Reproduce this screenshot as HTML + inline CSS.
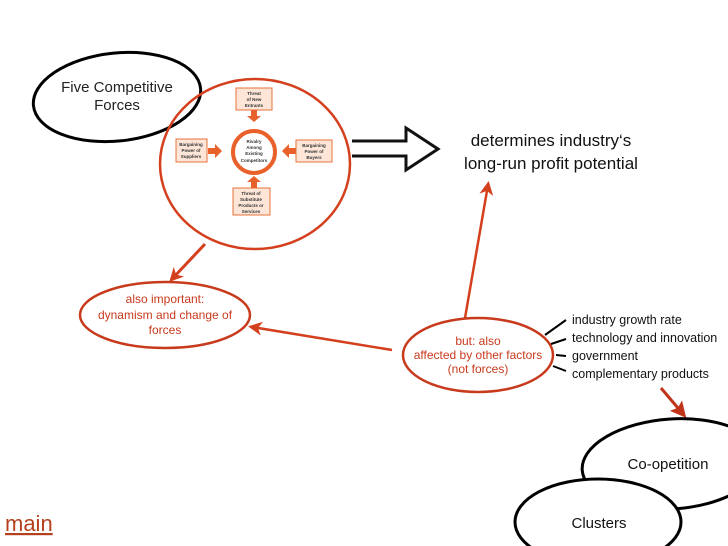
<!DOCTYPE html>
<html><head><meta charset="utf-8"><style>
html,body{margin:0;padding:0;background:#fff}
svg{display:block}
text{font-family:"Liberation Sans",sans-serif}
</style></head><body>
<svg width="728" height="546" viewBox="0 0 728 546" xmlns="http://www.w3.org/2000/svg">
<defs>
<marker id="ar" markerWidth="14" markerHeight="14" refX="10" refY="7" orient="auto" markerUnits="userSpaceOnUse" viewBox="0 0 14 14"><path d="M0,0 L14,7 L0,14 L4,7 Z" fill="#d4401e"/></marker>
<marker id="ar2" markerWidth="16" markerHeight="16" refX="11" refY="8" orient="auto" markerUnits="userSpaceOnUse" viewBox="0 0 16 16"><path d="M0,0 L16,8 L0,16 L3,8 Z" fill="#c0341a"/></marker>
</defs>
<ellipse cx="117" cy="97" rx="84" ry="44" transform="rotate(-6 117 97)" fill="#fff" stroke="#000" stroke-width="3"/>
<text x="117" y="92" font-size="15" text-anchor="middle" fill="#222">Five Competitive</text>
<text x="117" y="110" font-size="15" text-anchor="middle" fill="#222">Forces</text>
<ellipse cx="255" cy="164" rx="95" ry="85" fill="none" stroke="#d4401e" stroke-width="2.5"/>
<g font-size="4.5" font-weight="bold" text-anchor="middle" fill="#333">
<rect x="236" y="88" width="36" height="22" fill="#fde6d8" stroke="#e8703a"/>
<text x="254" y="95">Threat</text><text x="254" y="101">of New</text><text x="254" y="107">Entrants</text>
<rect x="176" y="139" width="31" height="23" fill="#fde6d8" stroke="#e8703a"/>
<text x="191" y="146">Bargaining</text><text x="191" y="152">Power of</text><text x="191" y="158">Suppliers</text>
<rect x="296" y="140" width="36" height="22" fill="#fde6d8" stroke="#e8703a"/>
<text x="314" y="147">Bargaining</text><text x="314" y="153">Power of</text><text x="314" y="159">Buyers</text>
<rect x="233" y="188" width="37" height="27" fill="#fde6d8" stroke="#e8703a"/>
<text x="251" y="195">Threat of</text><text x="251" y="201">Substitute</text><text x="251" y="207">Products or</text><text x="251" y="213">Services</text>
<text x="254" y="143">Rivalry</text><text x="254" y="149">Among</text><text x="254" y="155">Existing</text><text x="254" y="162">Competitors</text>
</g>
<circle cx="254" cy="152" r="21" fill="none" stroke="#e8602a" stroke-width="4"/>
<g fill="#e8602a">
<path d="M251,110 h6 v6 h4 l-7,6 l-7,-6 h4z"/>
<path d="M251,188 h6 v-6 h4 l-7,-6 l-7,6 h4z"/>
<path d="M208,148 h7 v-4 l7,7 l-7,7 v-4 h-7z"/>
<path d="M296,148 h-7 v-4 l-7,7 l7,7 v-4 h7z"/>
</g>
<path d="M352,141 L406,141 L406,128 L438,149 L406,170 L406,156 L352,156" fill="#fff" stroke="#111" stroke-width="3" stroke-linejoin="miter"/>
<text x="551" y="146" font-size="17" text-anchor="middle" fill="#111">determines industry‘s</text>
<text x="551" y="169" font-size="17" text-anchor="middle" fill="#111">long-run profit potential</text>
<line x1="465" y1="318" x2="488" y2="185" stroke="#d4401e" stroke-width="2.5" marker-end="url(#ar)"/>
<line x1="205" y1="244" x2="172" y2="279" stroke="#d4401e" stroke-width="3" marker-end="url(#ar)"/>
<line x1="392" y1="350" x2="252" y2="327" stroke="#d4401e" stroke-width="2.5" marker-end="url(#ar)"/>
<ellipse cx="165" cy="315" rx="85" ry="33" fill="#fff" stroke="#c83a1c" stroke-width="2.5"/>
<g font-size="12" text-anchor="middle" fill="#c83a1c">
<text x="165" y="303">also important:</text>
<text x="165" y="319">dynamism and change of</text>
<text x="165" y="334">forces</text>
</g>
<ellipse cx="478" cy="355" rx="75" ry="37" fill="#fff" stroke="#c83a1c" stroke-width="2.5"/>
<g font-size="12" text-anchor="middle" fill="#c83a1c">
<text x="478" y="345">but: also</text>
<text x="478" y="359">affected by other factors</text>
<text x="478" y="373">(not forces)</text>
</g>
<g stroke="#000" stroke-width="2">
<line x1="545" y1="335" x2="566" y2="320"/>
<line x1="551" y1="344" x2="566" y2="339"/>
<line x1="556" y1="355" x2="566" y2="356"/>
<line x1="553" y1="366" x2="566" y2="371"/>
</g>
<g font-size="12.5" fill="#111">
<text x="572" y="324">industry growth rate</text>
<text x="572" y="342">technology and innovation</text>
<text x="572" y="360">government</text>
<text x="572" y="378">complementary products</text>
</g>
<line x1="661" y1="388" x2="683" y2="414" stroke="#c0341a" stroke-width="3" marker-end="url(#ar2)"/>
<ellipse cx="672" cy="464" rx="90" ry="45" transform="rotate(-4 672 464)" fill="#fff" stroke="#000" stroke-width="3"/>
<text x="668" y="469" font-size="15" text-anchor="middle" fill="#111">Co-opetition</text>
<ellipse cx="598" cy="522" rx="83" ry="43" fill="#fff" stroke="#000" stroke-width="3"/>
<text x="599" y="528" font-size="15" text-anchor="middle" fill="#111">Clusters</text>
<text x="5" y="531" font-size="22" fill="#b5401e" text-decoration="underline">main</text>
</svg>
</body></html>
